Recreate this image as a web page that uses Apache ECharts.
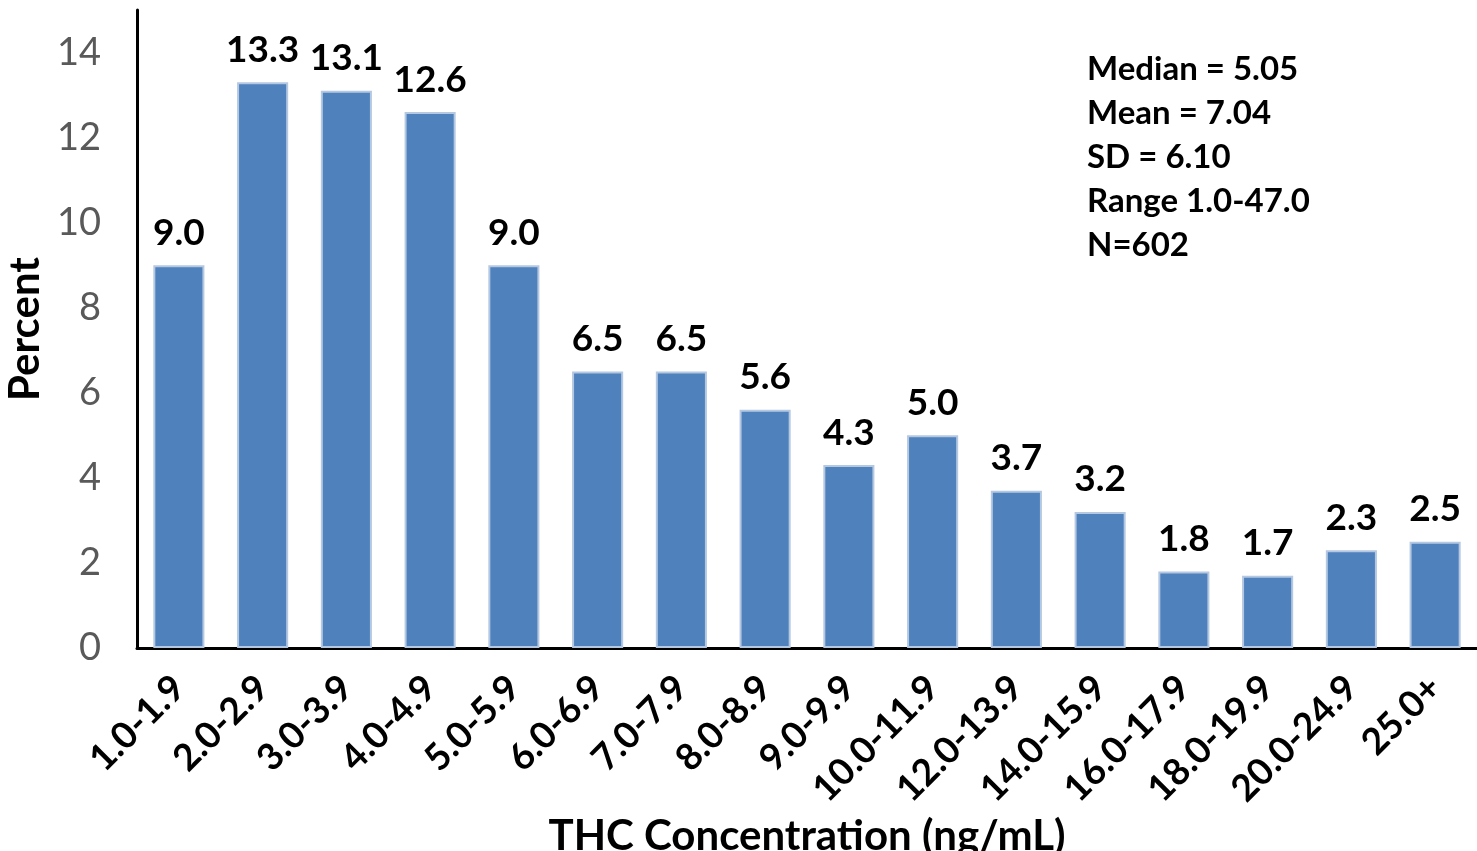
<!DOCTYPE html>
<html>
<head>
<meta charset="utf-8">
<script src="https://cdn.jsdelivr.net/npm/echarts@6/dist/echarts.min.js"></script>
<style>
  html, body { margin: 0; padding: 0; background: #fff; }
  #chart { width: 1477px; height: 851px; }
</style>
</head>
<body>
<div id="chart"></div>
<script>
// THC concentration bins and percent of cases
var categories = ['1.0-1.9', '2.0-2.9', '3.0-3.9', '4.0-4.9', '5.0-5.9', '6.0-6.9', '7.0-7.9', '8.0-8.9',
  '9.0-9.9', '10.0-11.9', '12.0-13.9', '14.0-15.9', '16.0-17.9', '18.0-19.9', '20.0-24.9', '25.0+']
var percents = [9.0, 13.3, 13.1, 12.6, 9.0, 6.5, 6.5, 5.6, 4.3, 5.0, 3.7, 3.2, 1.8, 1.7, 2.3, 2.5]
var statLines = ['Median = 5.05', 'Mean = 7.04', 'SD = 6.10', 'Range 1.0-47.0', 'N=602']

var myChart = echarts.init(document.getElementById('chart'))
var fontName = 'Lato, "Open Sans", sans-serif'

var option = {
  animation: false,
  grid: {
    left: 137,
    right: 0,
    top: 10,
    bottom: 203,
    outerBoundsMode: 'none',
    containLabel: false
  },
  xAxis: {
    type: 'category',
    data: categories,
    name: 'THC Concentration (ng/mL)',
    nameLocation: 'middle',
    nameGap: 160,
    nameTextStyle: {
      fontFamily: fontName,
      fontWeight: 'bold',
      fontSize: 42,
      color: '#000'
    },
    axisTick: { show: false },
    axisLine: {
      lineStyle: { width: 3, color: '#000' }
    },
    axisLabel: {
      rotate: 45,
      margin: 34,
      interval: 0,
      fontFamily: fontName,
      fontWeight: 'bold',
      fontSize: 37,
      color: '#000'
    }
  },
  yAxis: {
    type: 'value',
    min: 0,
    max: 15,
    interval: 2,
    name: 'Percent',
    nameLocation: 'middle',
    nameGap: 90,
    nameTextStyle: {
      fontFamily: fontName,
      fontWeight: 'bold',
      fontSize: 42,
      color: '#000'
    },
    axisTick: { show: false },
    axisLine: {
      show: true,
      lineStyle: { width: 3, color: '#000' }
    },
    axisLabel: {
      showMaxLabel: false,
      margin: 36,
      fontFamily: fontName,
      fontSize: 38,
      color: '#595959'
    },
    splitLine: { show: false }
  },
  series: [
    {
      type: 'bar',
      data: percents,
      barWidth: '61%',
      itemStyle: {
        color: '#4f81bd',
        borderColor: '#b4c8e2',
        borderWidth: 2
      },
      label: {
        show: true,
        position: 'top',
        distance: 14,
        formatter: function (p) { return p.value.toFixed(1) },
        fontFamily: fontName,
        fontWeight: 'bold',
        fontSize: 37,
        color: '#000'
      }
    }
  ],
  graphic: statLines.map(function (line, i) {
    return {
      type: 'text',
      left: 1087,
      top: 53 + i * 44,
      style: {
        text: line,
        fontFamily: fontName,
        fontWeight: 'bold',
        fontSize: 33,
        fill: '#000'
      }
    }
  })
}

myChart.setOption(option)
</script>
</body>
</html>
